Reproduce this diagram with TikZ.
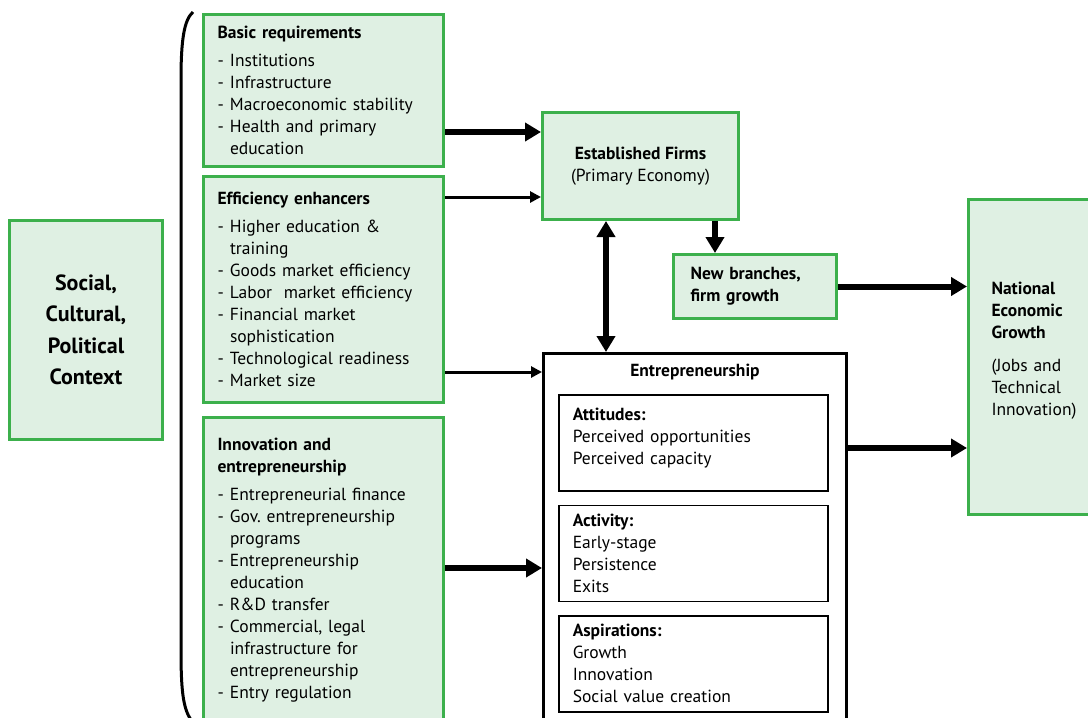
\documentclass[tikz,border=0pt]{standalone}
\usepackage{fontspec}
\setmainfont{PT Sans}
\usetikzlibrary{arrows.meta,positioning}
\definecolor{boxgreen}{RGB}{60,176,76}
\definecolor{boxfill}{RGB}{223,240,227}
\newcommand{\itm}{\makebox[12.5pt][l]{-}}
\newcommand{\cnt}{\hspace*{12.5pt}}
\frenchspacing

\begin{document}
\begin{tikzpicture}[x=1pt,y=-1pt,
    txt/.style={font=\fontsize{17.5}{22}\selectfont},
    greenbox/.style={draw=boxgreen, fill=boxfill, line width=3pt, anchor=north west, txt},
    listbox/.style={greenbox, align=left, inner xsep=14pt, text width=212pt, minimum width=240pt},
    subbox/.style={draw, line width=1.5pt, anchor=north west, txt, align=left, inner xsep=14pt, text width=241pt, minimum width=269pt, minimum height=96pt},
    bigarrow/.style={line width=6pt, -{Triangle[length=16pt,width=18pt]}},
    bigboth/.style={line width=6pt, {Triangle[length=16pt,width=18pt]}-{Triangle[length=16pt,width=18pt]}},
    thinarrow/.style={line width=3pt, -{Triangle[length=11pt,width=11pt]}}]

    \useasboundingbox (0,0) rectangle (1088,718);

    % Context and bracket
    \node[greenbox, minimum width=153pt, minimum height=219pt, align=center,
          font=\fontsize{22}{31.5}\selectfont\bfseries] (social) at (8,219) {Social,\\Cultural,\\Political\\Context};
    \draw[line width=3pt] (193,12) .. controls (184,20) and (181,40) .. (181,80) -- (181,650)
        .. controls (181,690) and (183,708) .. (191,720);

    % Pillars
    \node[listbox, minimum height=152pt] (basic) at (202,13) {%
        {\bfseries Basic requirements}\\[6pt]
        \itm Institutions\\
        \itm Infrastructure\\
        \itm Macroeconomic stability\\
        \itm Health and primary\\
        \cnt education};
    \node[listbox, minimum height=226pt] (effic) at (202,175) {%
        {\bfseries Efficiency enhancers}\\[6pt]
        \itm Higher education \&\\
        \cnt training\\
        \itm Goods market efficiency\\
        \itm Labor\ \ market efficiency\\
        \itm Financial market\\
        \cnt sophistication\\
        \itm Technological readiness\\
        \itm Market size};
    \node[listbox, minimum height=305pt] (innov) at (202,416) {%
        {\bfseries Innovation and\\entrepreneurship}\\[6pt]
        \itm Entrepreneurial finance\\
        \itm Gov. entrepreneurship\\
        \cnt programs\\
        \itm Entrepreneurship\\
        \cnt education\\
        \itm R\&D transfer\\
        \itm Commercial, legal\\
        \cnt infrastructure for\\
        \cnt entrepreneurship\\
        \itm Entry regulation};

    % Firms and growth
    \node[greenbox, minimum width=196pt, minimum height=107pt, align=center] (est) at (541,111)
        {\textbf{Established Firms}\\(Primary Economy)};
    \node[greenbox, minimum width=163pt, minimum height=64pt, align=left, text width=129pt,
          inner xsep=17pt, font=\fontsize{17.5}{22}\selectfont\bfseries] (newb) at (672,253)
        {New branches,\\firm growth};
    \node[greenbox, minimum width=140pt, minimum height=315pt, align=left, text width=94pt,
          inner xsep=23pt] (natl) at (967,198)
        {{\bfseries National\\Economic\\Growth}\\[11pt](Jobs and\\Technical\\Innovation)\\[-6pt]\mbox{}};

    % Entrepreneurship
    \node[draw, line width=3pt, anchor=north west, minimum width=303pt, minimum height=400pt,
          label={[font=\fontsize{17.5}{22}\selectfont\bfseries, anchor=north, yshift=-9pt]north:Entrepreneurship}]
        (ent) at (542,352) {};
    \node[subbox] (att) at (558,394) {\textbf{Attitudes:}\\Perceived opportunities\\Perceived capacity\\[-10pt]\mbox{}};
    \node[subbox, below=13pt of att] (act) {\textbf{Activity:}\\Early-stage\\Persistence\\Exits};
    \node[subbox, below=13pt of act] (asp) {\textbf{Aspirations:}\\Growth\\Innovation\\Social value creation};

    % Arrows
    \draw[bigarrow] (basic.east |- 0,132) -- (est.west |- 0,132);
    \draw[thinarrow] (effic.east |- 0,197) -- (est.west |- 0,197);
    \draw[thinarrow] (effic.east |- 0,372) -- (ent.west |- 0,372);
    \draw[bigarrow] (innov.east |- 0,568) -- (ent.west |- 0,568);
    \draw[bigboth] (est.south -| 606,0) -- (ent.north -| 606,0);
    \draw[bigarrow] (est.south -| 715,0) -- (newb.north -| 715,0);
    \draw[bigarrow] (newb.east) -- (natl.west |- newb.east);
    \draw[bigarrow] (ent.east |- 0,448) -- (natl.west |- 0,448);
\end{tikzpicture}
\end{document}
